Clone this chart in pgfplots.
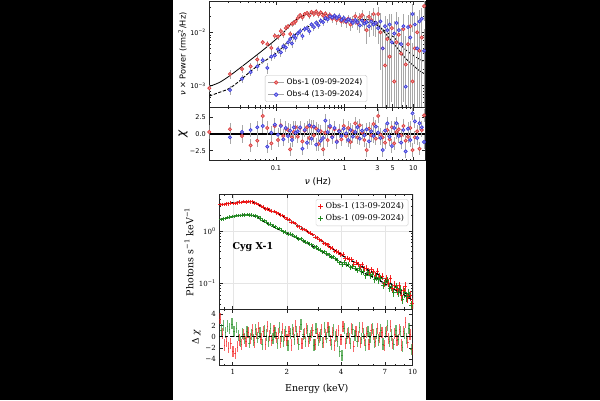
\documentclass[border=0pt]{standalone}
\usepackage{pgfplots}
\usepackage{pgfplotstable}
\usepackage{fontspec}
\pgfplotsset{compat=1.18}
\setmainfont{DejaVu Sans}
\newfontfamily\sansF{DejaVu Sans}
\newfontfamily\serifF{DejaVu Serif}
\definecolor{redE}{HTML}{E03A3A}
\definecolor{redF}{HTML}{E6A0A0}
\definecolor{bluE}{HTML}{3A3AE0}
\definecolor{bluF}{HTML}{A0A0E6}
\definecolor{errg}{HTML}{A8A8A8}
\definecolor{sred}{HTML}{F51515}
\definecolor{sgreen}{HTML}{1E8C1E}
\newcommand\fs[1]{\fontsize{#1}{#1}\selectfont}

% PSD Obs-1: frequency, nu*P, error, chi residual
\pgfplotstableread{
f y e r
0.0107 9.0e-4 1.5e-4 0.3
0.0214 1.65e-3 3e-4 0.7
0.0321 2.05e-3 3.5e-4 -0.3
0.0428 2.3e-3 4e-4 -1.7
0.0535 3.1e-3 6e-4 -1.0
0.0642 6.5e-3 8e-4 2.7
0.0749 6.0e-3 8e-4 0.9
0.0856 5.1e-3 1e-3 -1.4
0.0963 8.6e-3 1.2e-3 1.2
0.107 8.3e-3 1.2e-3 -0.9
0.118 1.05e-2 1.4e-3 1.3
0.128 9.2e-3 1.4e-3 -0.3
0.139 1.2e-2 1.5e-3 0.8
0.150 1.3e-2 1.6e-3 0.6
0.161 9.3e-3 1.5e-3 -2.3
0.171 1.45e-2 1.8e-3 -0.5
0.182 1.5e-2 2e-3 0.3
0.193 1.6e-2 2e-3 1.0
0.208 1.85e-2 2.2e-3 -0.4
0.225 2.1e-2 2.3e-3 0.9
0.243 1.9e-2 2.4e-3 -1.1
0.262 2.2e-2 2.5e-3 0.5
0.283 2.3e-2 2.5e-3 1.0
0.306 2.05e-2 2.6e-3 -0.6
0.330 2.4e-2 2.6e-3 1.1
0.357 2.2e-2 2.7e-3 -0.2
0.385 2.45e-2 2.7e-3 0.8
0.416 2.15e-2 2.8e-3 -1.5
0.449 2.35e-2 2.8e-3 0.4
0.485 2.05e-2 2.8e-3 -2.3
0.524 2.25e-2 2.8e-3 0.2
0.566 1.95e-2 2.8e-3 -0.9
0.611 2.1e-2 2.9e-3 1.0
0.660 1.8e-2 2.9e-3 -0.4
0.713 2.0e-2 3e-3 0.7
0.770 1.7e-2 3e-3 -1.1
0.832 1.85e-2 3e-3 0.5
0.898 1.6e-2 3.2e-3 -0.8
0.970 1.75e-2 3.3e-3 1.2
1.048 1.55e-2 3.4e-3 -0.3
1.131 1.8e-2 3.5e-3 0.9
1.222 1.4e-2 3.6e-3 -1.2
1.320 1.65e-2 3.8e-3 0.4
1.425 2.0e-2 4e-3 1.6
1.539 1.5e-2 4e-3 -0.5
1.663 1.9e-2 4.5e-3 1.3
1.796 2.1e-2 4.8e-3 0.2
1.939 1.6e-2 5e-3 -0.9
2.094 1.1e-2 5e-3 -2.4
2.262 1.95e-2 5.5e-3 0.8
2.443 1.7e-2 6e-3 -0.2
2.638 2.2e-2 7e-3 1.5
2.849 1.5e-2 7e-3 -0.7
3.077 2.2e-2 8e-3 2.7
3.323 1.0e-2 8e-3 -0.1
3.589 5.0e-3 7e-3 -0.5
3.876 2.4e-3 6e-3 -1.3
4.186 7.5e-3 8e-3 0.6
4.521 3.5e-3 6e-3 -0.8
4.883 1.2e-2 1e-2 1.0
5.274 1.2e-3 5e-3 -1.4
5.695 6.5e-3 8e-3 0.3
6.151 9.0e-3 1e-2 0.7
6.643 4.0e-3 7e-3 -0.2
7.175 1.15e-2 1.1e-2 1.2
7.749 2.5e-3 6e-3 -1.0
8.369 6.0e-3 8e-3 -0.4
9.038 1.3e-2 1.1e-2 0.9
9.761 1.2e-3 5e-3 -2.4
10.54 5.0e-3 8e-3 -0.5
11.39 1.0e-2 1e-2 0.4
12.30 4.5e-3 8e-3 -2.2
13.28 8.0e-3 1e-2 0.6
14.34 3.1e-2 1.5e-2 2.8
}\psdA

% PSD Obs-4
\pgfplotstableread{
f y e r
0.0214 8.3e-4 1.5e-4 -0.5
0.0321 1.35e-3 2.5e-4 0.3
0.0428 1.8e-3 3e-4 0.6
0.0535 2.3e-3 4e-4 1.0
0.0642 3.0e-3 5e-4 1.2
0.0749 2.15e-3 5e-4 -1.9
0.0856 3.5e-3 6e-4 0.2
0.0963 3.7e-3 6e-4 1.4
0.107 4.8e-3 8e-4 -0.1
0.118 4.2e-3 8e-4 1.2
0.128 5.5e-3 9e-4 -0.8
0.139 5.2e-3 9e-4 0.9
0.150 6.5e-3 1e-3 -0.3
0.161 7.5e-3 1.1e-3 0.5
0.171 6.2e-3 1.1e-3 -0.9
0.182 8.5e-3 1.2e-3 1.0
0.193 7.8e-3 1.2e-3 0.2
0.208 9.5e-3 1.3e-3 0.4
0.225 1.05e-2 1.4e-3 1.0
0.243 8.5e-3 1.4e-3 -2.2
0.262 1.15e-2 1.5e-3 0.6
0.283 1.2e-2 1.6e-3 -1.3
0.306 1.05e-2 1.6e-3 1.3
0.330 1.4e-2 1.8e-3 -0.7
0.357 1.25e-2 1.8e-3 1.1
0.385 1.5e-2 2e-3 -1.6
0.416 1.35e-2 2e-3 0.5
0.449 1.65e-2 2.2e-3 -1.0
0.485 1.55e-2 2.2e-3 -0.6
0.524 1.85e-2 2.4e-3 2.0
0.566 1.75e-2 2.4e-3 0.3
0.611 2.0e-2 2.5e-3 1.2
0.660 1.9e-2 2.5e-3 -0.5
0.713 2.05e-2 2.6e-3 0.9
0.770 1.85e-2 2.6e-3 -1.2
0.832 2.0e-2 2.7e-3 0.4
0.898 1.7e-2 2.7e-3 -0.3
0.970 1.85e-2 2.8e-3 0.8
1.048 1.6e-2 2.8e-3 0.1
1.131 1.75e-2 3e-3 -0.9
1.222 1.65e-2 3e-3 0.6
1.320 1.5e-2 3.2e-3 -0.4
1.425 1.7e-2 3.3e-3 0.3
1.539 1.55e-2 3.5e-3 1.0
1.663 1.35e-2 3.6e-3 -0.7
1.796 1.65e-2 4e-3 0.5
1.939 1.45e-2 4e-3 -0.2
2.094 1.55e-2 4.5e-3 0.7
2.262 1.3e-2 4.8e-3 -1.1
2.443 1.6e-2 5e-3 0.4
2.638 1.4e-2 5.5e-3 -0.3
2.849 1.5e-2 6e-3 1.1
3.077 1.2e-2 6e-3 0.2
3.323 1.6e-2 7e-3 -0.6
3.589 5.0e-3 5e-3 -2.4
3.876 1.3e-2 7e-3 0.5
4.186 1.1e-2 7e-3 1.6
4.521 1.4e-2 8e-3 -0.4
4.883 6.5e-3 6e-3 -1.8
5.274 9.5e-3 7e-3 0.9
5.695 1.5e-2 9e-3 1.6
6.151 1.1e-2 8e-3 -0.3
6.643 6.0e-3 6e-3 -1.3
7.175 1.3e-2 9e-3 0.6
7.749 9.6e-4 4e-3 -2.6
8.369 1.25e-2 9e-3 0.8
9.038 8.0e-3 8e-3 -0.9
9.761 2.2e-2 1.2e-2 3.1
10.54 1.4e-2 1e-2 1.9
11.39 5.0e-3 7e-3 -0.6
12.30 1.6e-2 1e-2 1.6
13.28 1.8e-2 1.1e-2 1.0
14.34 4.5e-3 7e-3 -1.2
}\psdB

% model curves
\pgfplotstableread{
f m1 m2
0.0107 9.7e-4 6.4e-4
0.015 1.15e-3 7.5e-4
0.021 1.52e-3 8.9e-4
0.03 2.15e-3 1.25e-3
0.042 3.0e-3 1.83e-3
0.06 4.3e-3 2.6e-3
0.08 5.8e-3 3.3e-3
0.1 7.4e-3 4.05e-3
0.13 1.0e-2 5.5e-3
0.16 1.37e-2 7.4e-3
0.2 1.75e-2 9.6e-3
0.28 2.2e-2 1.23e-2
0.36 2.3e-2 1.45e-2
0.48 2.27e-2 1.7e-2
0.6 2.1e-2 1.9e-2
0.75 1.9e-2 1.96e-2
0.95 1.78e-2 1.8e-2
1.17 1.7e-2 1.7e-2
1.45 1.7e-2 1.64e-2
1.8 1.73e-2 1.58e-2
2.2 1.72e-2 1.52e-2
2.6 1.65e-2 1.46e-2
3.0 1.45e-2 1.35e-2
3.4 1.19e-2 1.19e-2
4.2 8.6e-3 9.8e-3
5.2 6.1e-3 8.1e-3
6.4 4.4e-3 6.0e-3
7.8 3.2e-3 4.65e-3
10 2.4e-3 3.7e-3
12 1.95e-3 3.2e-3
14.8 1.65e-3 2.8e-3
}\psdM

% energy spectrum: E, models, data, residuals
\pgfplotstableread{
E mR mG dR dG rR rG
0.850 3.15 1.67 3.18 1.65 3.2 1.2
0.874 3.21 1.69 3.17 1.71 0.5 2.0
0.898 3.28 1.72 3.22 1.74 -1.5 0.8
0.923 3.33 1.76 3.30 1.79 -0.8 1.9
0.949 3.37 1.80 3.29 1.83 -2.0 1.4
0.976 3.42 1.84 3.38 1.89 -1.2 2.3
1.003 3.45 1.88 3.33 1.90 -2.6 0.9
1.031 3.49 1.92 3.36 1.96 -3.0 1.6
1.060 3.53 1.95 3.45 1.96 -1.8 0.2
1.090 3.56 1.98 3.53 1.96 -0.6 -0.8
1.120 3.58 2.00 3.51 2.01 -1.4 0.5
1.152 3.60 2.02 3.62 2.01 0.4 -0.3
1.184 3.61 2.03 3.57 2.05 -0.9 0.9
1.217 3.61 2.03 3.64 2.00 0.8 -1.1
1.251 3.60 2.01 3.59 2.02 -0.3 0.4
1.286 3.55 1.98 3.60 1.96 1.2 -0.6
1.322 3.45 1.92 3.41 1.95 -1.0 1.3
1.359 3.30 1.86 3.32 1.86 0.5 -0.2
1.397 3.12 1.76 3.18 1.77 1.6 0.7
1.436 2.93 1.64 2.92 1.61 -0.4 -1.4
1.476 2.80 1.54 2.83 1.56 0.9 1.1
1.518 2.68 1.45 2.63 1.46 -1.3 0.3
1.560 2.58 1.38 2.65 1.36 1.8 -0.9
1.604 2.50 1.31 2.51 1.34 0.2 1.5
1.649 2.40 1.25 2.38 1.24 -0.7 -0.4
1.695 2.31 1.19 2.35 1.20 1.1 0.8
1.742 2.22 1.13 2.21 1.11 -0.2 -1.2
1.791 2.13 1.08 2.15 1.11 0.6 1.7
1.841 2.03 1.03 1.99 1.03 -1.1 0.1
1.893 1.92 0.98 1.97 0.96 1.4 -0.8
1.946 1.81 0.94 1.82 0.95 0.3 1.0
2.000 1.70 0.90 1.68 0.87 -0.6 -1.6
2.056 1.61 0.865 1.64 0.87 1.0 0.6
2.114 1.51 0.825 1.46 0.84 -1.5 1.3
2.173 1.42 0.785 1.44 0.78 0.7 -0.5
2.234 1.33 0.75 1.38 0.76 1.9 0.9
2.297 1.25 0.715 1.24 0.70 -0.4 -1.3
2.361 1.18 0.685 1.20 0.71 0.9 2.2
2.427 1.12 0.655 1.09 0.66 -1.2 0.4
2.495 1.05 0.625 1.06 0.615 0.5 -0.9
2.565 0.99 0.595 1.02 0.605 1.5 1.1
2.637 0.94 0.565 0.925 0.563 -0.8 -0.3
2.711 0.895 0.535 0.90 0.542 0.2 0.8
2.787 0.835 0.51 0.855 0.49 1.2 -1.5
2.865 0.78 0.48 0.755 0.495 -1.4 1.4
2.945 0.73 0.455 0.74 0.448 0.6 -0.6
3.028 0.685 0.43 0.68 0.432 -0.2 0.3
3.112 0.64 0.408 0.66 0.398 1.3 -1.1
3.200 0.595 0.385 0.58 0.40 -1.0 1.6
3.289 0.56 0.366 0.565 0.364 0.4 -0.2
3.381 0.525 0.347 0.545 0.355 1.7 0.9
3.476 0.49 0.328 0.482 0.315 -0.7 -1.4
3.574 0.46 0.311 0.468 0.322 0.8 1.2
3.674 0.43 0.295 0.41 0.296 -1.6 0.1
3.777 0.405 0.279 0.408 0.272 0.3 -0.8
3.882 0.38 0.265 0.39 0.245 1.1 -2.6
3.991 0.355 0.252 0.352 0.226 -0.5 -3.3
4.103 0.33 0.240 0.352 0.252 1.8 1.5
4.218 0.315 0.230 0.30 0.228 -1.2 -0.3
4.336 0.298 0.220 0.305 0.226 0.6 0.8
4.458 0.283 0.210 0.28 0.198 -0.3 -1.2
4.583 0.268 0.200 0.285 0.213 1.4 1.3
4.711 0.255 0.192 0.233 0.194 -1.7 0.2
4.843 0.242 0.184 0.253 0.176 0.9 -0.9
4.979 0.230 0.176 0.231 0.192 0.1 1.7
5.118 0.218 0.169 0.204 0.165 -1.1 -0.4
5.262 0.207 0.162 0.227 0.168 1.6 0.6
5.409 0.196 0.155 0.189 0.139 -0.6 -1.5
5.561 0.186 0.149 0.195 0.159 0.7 1.0
5.717 0.175 0.142 0.158 0.141 -1.4 -0.1
5.877 0.167 0.136 0.182 0.150 1.2 1.4
6.042 0.160 0.131 0.165 0.119 0.4 -1.0
6.211 0.155 0.126 0.143 0.131 -0.9 0.5
6.385 0.150 0.121 0.172 0.116 1.5 -0.6
6.564 0.138 0.113 0.136 0.125 -0.2 1.2
6.748 0.127 0.106 0.137 0.093 0.8 -1.3
6.937 0.119 0.100 0.100 0.106 -1.6 0.7
7.131 0.112 0.095 0.124 0.114 1.0 2.0
7.331 0.105 0.0885 0.101 0.081 -0.4 -0.8
7.536 0.098 0.084 0.123 0.087 1.9 0.3
7.747 0.092 0.080 0.080 0.068 -1.2 -1.4
7.964 0.087 0.0755 0.092 0.085 0.5 1.1
8.187 0.081 0.0715 0.075 0.068 -0.7 -0.5
8.416 0.077 0.068 0.090 0.075 1.3 0.9
8.652 0.072 0.064 0.058 0.050 -1.5 -1.8
8.894 0.068 0.061 0.074 0.066 0.9 0.6
9.143 0.064 0.057 0.088 0.055 2.6 -0.3
9.399 0.060 0.054 0.054 0.063 -1.0 1.5
9.662 0.056 0.051 0.058 0.038 0.4 -2.3
9.933 0.053 0.048 0.042 0.052 -2.2 0.8
}\spec

\pgfplotsset{
  every axis/.append style={
    scale only axis,
    axis line style={black!85, line width=0.6pt},
    tick style={black!85, line width=0.5pt},
    major tick length=3.5pt, minor tick length=2pt,
    tick align=inside,
  },
}

\begin{document}
\begin{tikzpicture}
\useasboundingbox (0,0) rectangle (600pt,-400pt);
\fill[black] (0,0) rectangle (600pt,-400pt);
\fill[white] (173pt,0) rectangle (426pt,-400pt);

% ---------- PSD main ----------
\begin{axis}[
  xmode=log, ymode=log,
  xmin=0.0107, xmax=14.8, ymin=3.94e-4, ymax=0.0386,
  width=215.7pt, height=106.3pt,
  at={(209.3pt,-107.3pt)}, anchor=south west,
  xtick={0.1,1,3,5,10},
  minor xtick={0.02,0.03,0.04,0.05,0.06,0.07,0.08,0.09,0.2,0.3,0.4,0.5,0.6,0.7,0.8,0.9,2,4,6,7,8,9},
  xticklabels={},
  tick label style={font=\sansF\fs{6.5}},
  ytick={1e-3,1e-2},
  yticklabels={10\textsuperscript{−3},10\textsuperscript{−2}},
  minor ytick={4e-4,5e-4,6e-4,7e-4,8e-4,9e-4,2e-3,3e-3,4e-3,5e-3,6e-3,7e-3,8e-3,9e-3,2e-2,3e-2},
  ylabel={{\itshape ν} × Power (rms\textsuperscript{2}/Hz)},
  ylabel style={at={(axis description cs:-0.124,0.5)}, anchor=center, font=\sansF\fs{8.2}},
  legend style={at={(0.258,0.05)}, anchor=south west, font=\sansF\fs{7.7},
    draw=black!25, rounded corners=1.5pt, inner xsep=2.5pt, inner ysep=1.5pt, row sep=0.8pt},
  legend cell align=left,
]
\addplot[black, line width=0.8pt, smooth, forget plot] table[x=f, y=m1] \psdM;
\addplot[black, line width=0.9pt, dash pattern=on 3.2pt off 1.6pt, smooth, forget plot] table[x=f, y=m2] \psdM;
\addplot[forget plot, only marks, mark=*, mark size=1.6pt, mark options={draw=redE, fill=redF, line width=0.7pt},
  error bars/.cd, y dir=both, y explicit, error mark=none,
  error bar style={errg, line width=0.9pt}]
  table[x=f, y=y, y error plus=e, y error minus expr={min(\thisrow{e},0.99*\thisrow{y})}] \psdA;
\addplot[forget plot, only marks, mark=*, mark size=1.6pt, mark options={draw=bluE, fill=bluF, line width=0.7pt},
  error bars/.cd, y dir=both, y explicit, error mark=none,
  error bar style={errg, line width=0.9pt}]
  table[x=f, y=y, y error plus=e, y error minus expr={min(\thisrow{e},0.99*\thisrow{y})}] \psdB;
\addlegendimage{legend image code/.code={\draw[errg, line width=1pt] (0pt,0pt) -- (16pt,0pt); \draw[draw=redE, fill=redF, line width=0.7pt] (8pt,0pt) circle (1.8pt);}}
\addlegendentry{Obs-1 (09-09-2024)}
\addlegendimage{legend image code/.code={\draw[errg, line width=1pt] (0pt,0pt) -- (16pt,0pt); \draw[draw=bluE, fill=bluF, line width=0.7pt] (8pt,0pt) circle (1.8pt);}}
\addlegendentry{Obs-4 (13-09-2024)}
\end{axis}

% ---------- PSD residuals ----------
\begin{axis}[
  xmode=log, xmin=0.0107, xmax=14.8, ymin=-4, ymax=4,
  width=215.7pt, height=53.4pt,
  at={(209.3pt,-107.3pt)}, anchor=north west,
  xtick={0.1,1,3,5,10},
  minor xtick={0.02,0.03,0.04,0.05,0.06,0.07,0.08,0.09,0.2,0.3,0.4,0.5,0.6,0.7,0.8,0.9,2,4,6,7,8,9},
  xticklabels={0.1,1,3,5,10},
  tick label style={font=\sansF\fs{6.5}},
  ytick={-2.5,0,2.5}, yticklabels={−2.5,0.0,2.5},
  xticklabel style={yshift=-1.5pt},
  ylabel={\itshape χ},
  ylabel style={at={(axis description cs:-0.122,0.5)}, anchor=center, font=\sansF\fs{12}},
  xlabel={{\itshape ν} (Hz)},
  xlabel style={at={(axis description cs:0.504,-0.393)}, anchor=center, font=\sansF\fs{9}},
]
\addplot[black, line width=1.2pt] coordinates {(0.0107,0) (14.8,0)};
\addplot[only marks, mark=*, mark size=1.6pt, mark options={draw=redE, fill=redF, line width=0.7pt},
  error bars/.cd, y dir=both, y fixed=1, error mark=none,
  error bar style={errg, line width=0.9pt}]
  table[x=f, y=r] \psdA;
\addplot[only marks, mark=*, mark size=1.6pt, mark options={draw=bluE, fill=bluF, line width=0.7pt},
  error bars/.cd, y dir=both, y fixed=1, error mark=none,
  error bar style={errg, line width=0.9pt}]
  table[x=f, y=r] \psdB;
\end{axis}

% ---------- Spectrum main ----------
\begin{axis}[
  xmode=log, ymode=log,
  xmin=0.842, xmax=10, ymin=0.0318, ymax=5.0,
  width=193.4pt, height=115pt,
  at={(219.3pt,-309.3pt)}, anchor=south west,
  xtick={1,2,4,7,10},
  minor xtick={0.9,3,5,6,8,9},
  xticklabels={},
  tick label style={font=\serifF\fs{7}},
  ytick={0.1,1},
  yticklabels={10\textsuperscript{−1},10\textsuperscript{0}},
  minor ytick={0.04,0.05,0.06,0.07,0.08,0.09,0.2,0.3,0.4,0.5,0.6,0.7,0.8,0.9,2,3,4},
  grid=major, major grid style={black!10, line width=0.4pt},
  ylabel={Photons s\textsuperscript{−1} keV\textsuperscript{−1}},
  ylabel style={at={(axis description cs:-0.157,0.5)}, anchor=center, font=\serifF\fs{9.5}},
  legend style={at={(0.977,0.959)}, anchor=north east, font=\serifF\fs{8},
    draw=black!20, rounded corners=1.5pt, inner xsep=2pt, inner ysep=1.5pt, row sep=0.5pt},
  legend cell align=left,
]
\addplot[forget plot, only marks, mark=+, mark size=1.8pt, sred, opacity=0.9, mark options={line width=0.8pt},
  error bars/.cd, y dir=both, y explicit, error mark=none,
  error bar style={sred, line width=0.9pt}]
  table[x=E, y=dR, y error expr={\thisrow{dR}*(0.012+0.022*\thisrow{E})}] \spec;
\addplot[forget plot, only marks, mark=+, mark size=1.8pt, sgreen, opacity=0.9, mark options={line width=0.8pt},
  error bars/.cd, y dir=both, y explicit, error mark=none,
  error bar style={sgreen, line width=0.9pt}]
  table[x expr=\thisrow{E}*1.014, y=dG, y error expr={\thisrow{dG}*(0.012+0.022*\thisrow{E})}] \spec;
\addplot[black, line width=1.2pt, dash pattern=on 3.5pt off 2pt, forget plot] table[x=E, y=mR] \spec;
\addplot[black, line width=1.2pt, dash pattern=on 3.5pt off 2pt, forget plot] table[x=E, y=mG] \spec;
\addlegendimage{legend image code/.code={\draw[sred, line width=0.6pt] (5pt,-2.5pt) -- (5pt,2.5pt); \draw[sred, line width=0.6pt] (2.5pt,0pt) -- (7.5pt,0pt);}}
\addlegendentry{Obs-1 (13-09-2024)}
\addlegendimage{legend image code/.code={\draw[sgreen, line width=0.6pt] (5pt,-2.5pt) -- (5pt,2.5pt); \draw[sgreen, line width=0.6pt] (2.5pt,0pt) -- (7.5pt,0pt);}}
\addlegendentry{Obs-1 (09-09-2024)}
\node[font=\serifF\bfseries\fs{9.5}] at (rel axis cs:0.174,0.544) {Cyg X-1};
\end{axis}

% ---------- Spectrum residuals ----------
\begin{axis}[
  xmode=log, xmin=0.842, xmax=10, ymin=-5.2, ymax=4.9,
  width=193.4pt, height=56.4pt,
  at={(219.3pt,-309.3pt)}, anchor=north west,
  xtick={1,2,4,7,10},
  minor xtick={0.9,3,5,6,8,9},
  xticklabels={1,2,4,7,10},
  tick label style={font=\serifF\fs{7}},
  ytick={-4,-2,0,2,4}, yticklabels={−4,−2,0,2,4},
  ylabel={Δ {\itshape χ}},
  ylabel style={at={(axis description cs:-0.119,0.5)}, anchor=center, font=\serifF\fs{9}},
  xlabel={Energy (keV)},
  xlabel style={at={(axis description cs:0.504,-0.413)}, anchor=center, font=\serifF\fs{9.5}},
]
\addplot[only marks, mark=-, mark size=0.7pt, sred, opacity=0.65,
  error bars/.cd, y dir=both, y fixed=1, error mark=none,
  error bar style={sred, line width=1.2pt}]
  table[x=E, y=rR] \spec;
\addplot[only marks, mark=-, mark size=0.7pt, sgreen, opacity=0.65,
  error bars/.cd, y dir=both, y fixed=1, error mark=none,
  error bar style={sgreen, line width=1.2pt}]
  table[x expr=\thisrow{E}*1.014, y=rG] \spec;
\addplot[black, line width=1.1pt, dash pattern=on 3.5pt off 2pt] coordinates {(0.842,0) (10,0)};
\end{axis}
\end{tikzpicture}
\end{document}
